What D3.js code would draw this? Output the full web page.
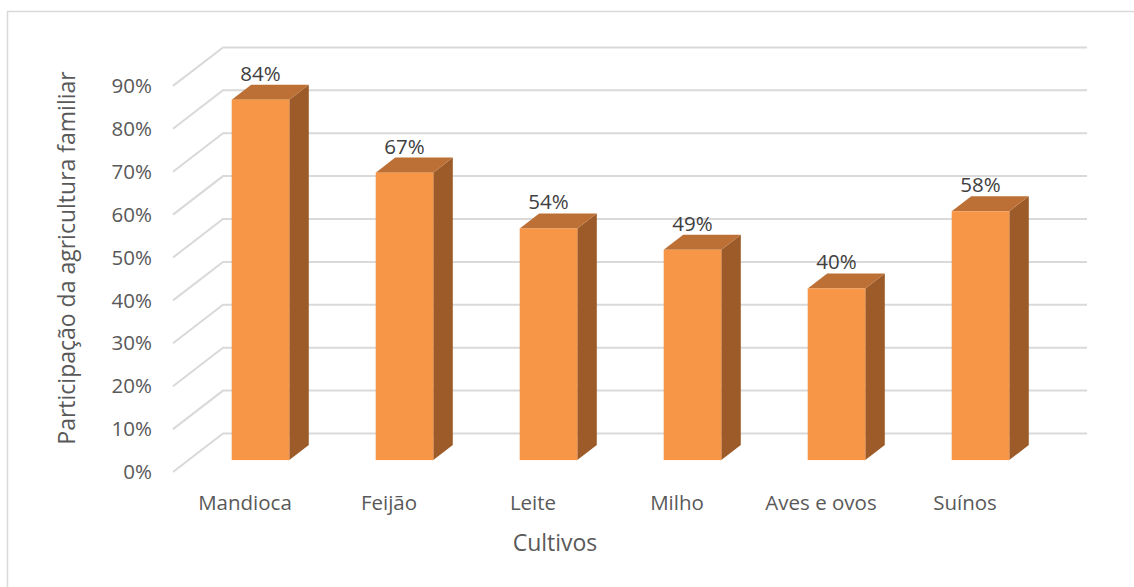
<!DOCTYPE html>
<html>
<head>
<meta charset="utf-8">
<script src="https://cdn.jsdelivr.net/npm/d3@7.9.0/dist/d3.min.js"></script>
<style>
  body { margin: 0; background: #fff; }
  text { font-family: "Open Sans", sans-serif; }
</style>
</head>
<body>
<div id="chart"></div>
<script>
const categories = ['Mandioca', 'Feijão', 'Leite', 'Milho', 'Aves e ovos', 'Suínos'];
const values = [0.84, 0.67, 0.54, 0.49, 0.40, 0.58];
const yTicks = [0, 0.1, 0.2, 0.3, 0.4, 0.5, 0.6, 0.7, 0.8, 0.9];

const width = 1134;
const height = 587;

// front plane of the 3D box, depth 1 = back wall
const left = 173, right = 1037;
const depth = { dx: 50, dy: -38.5 };
const barFront = 0.31, barBack = 0.70;

const x = d3.scaleBand()
  .domain(categories)
  .range([left, right])
  .paddingInner(0.6)
  .paddingOuter(0.3);

const y = d3.scaleLinear()
  .domain([0, 0.9])
  .range([472, 85.9]);

function proj(px, py, d) {
  return [px + d * depth.dx, py + d * depth.dy];
}

const svg = d3.select('#chart')
  .append('svg')
  .attr('width', width)
  .attr('height', height);

// chart border
svg.append('rect')
  .attr('x', 7.5).attr('y', 11.5)
  .attr('width', 1140).attr('height', 600)
  .attr('fill', 'none')
  .attr('stroke', '#d9d9d9')
  .attr('stroke-width', 1.5);

// gridlines: side wall + back wall
const grid = svg.append('g').attr('class', 'gridlines');
yTicks.forEach(t => {
  const p0 = proj(left, y(t), 0);
  const p1 = proj(left, y(t), 1);
  const p2 = proj(right, y(t), 1);
  grid.append('path')
    .attr('d', `M${p0[0]},${p0[1]}L${p1[0]},${p1[1]}L${p2[0]},${p2[1]}`)
    .attr('fill', 'none')
    .attr('stroke', '#d9d9d9')
    .attr('stroke-width', 2);
});

// bars
const bars = svg.append('g').attr('class', 'bars');
categories.forEach((c, i) => {
  const x0 = x(c), x1 = x(c) + x.bandwidth();
  const yb = y(0), yt = y(values[i]);
  const f = (px, py, d) => proj(px, py, d).join(',');

  // side face
  bars.append('path')
    .attr('d', `M${f(x1, yb, barFront)}L${f(x1, yb, barBack)}L${f(x1, yt, barBack)}L${f(x1, yt, barFront)}Z`)
    .attr('fill', '#9c5b28');
  // top face
  bars.append('path')
    .attr('d', `M${f(x0, yt, barFront)}L${f(x1, yt, barFront)}L${f(x1, yt, barBack)}L${f(x0, yt, barBack)}Z`)
    .attr('fill', '#bd7035');
  // front face
  const a = proj(x0, yt, barFront), b = proj(x1, yb, barFront);
  bars.append('rect')
    .attr('x', a[0]).attr('y', a[1])
    .attr('width', b[0] - a[0]).attr('height', b[1] - a[1])
    .attr('fill', '#f79646');

  // data label
  const lp = proj(x0 + x.bandwidth() / 2, yt, barFront);
  const top = proj(x0, yt, barBack);
  svg.append('text')
    .attr('x', lp[0])
    .attr('y', top[1] - 4)
    .attr('text-anchor', 'middle')
    .attr('fill', '#404040')
    .style('font-size', '20.5px')
    .text(d3.format('.0%')(values[i]));
});

// y tick labels
svg.append('g').selectAll('text')
  .data(yTicks)
  .join('text')
  .attr('x', 152)
  .attr('y', d => y(d))
  .attr('dy', '0.35em')
  .attr('text-anchor', 'end')
  .attr('fill', '#595959')
  .style('font-size', '20.5px')
  .text(d => d3.format('.0%')(d));

// category labels
svg.append('g').selectAll('text')
  .data(categories)
  .join('text')
  .attr('x', d => x(d) + x.bandwidth() / 2)
  .attr('y', 510)
  .attr('text-anchor', 'middle')
  .attr('fill', '#595959')
  .style('font-size', '20.5px')
  .text(d => d);

// axis titles
svg.append('text')
  .attr('x', 555)
  .attr('y', 551)
  .attr('text-anchor', 'middle')
  .attr('fill', '#595959')
  .style('font-size', '23px')
  .text('Cultivos');

svg.append('text')
  .attr('transform', 'translate(75,258) rotate(-90)')
  .attr('text-anchor', 'middle')
  .attr('fill', '#595959')
  .style('font-size', '23px')
  .text('Participação da agricultura familiar');
</script>
</body>
</html>
